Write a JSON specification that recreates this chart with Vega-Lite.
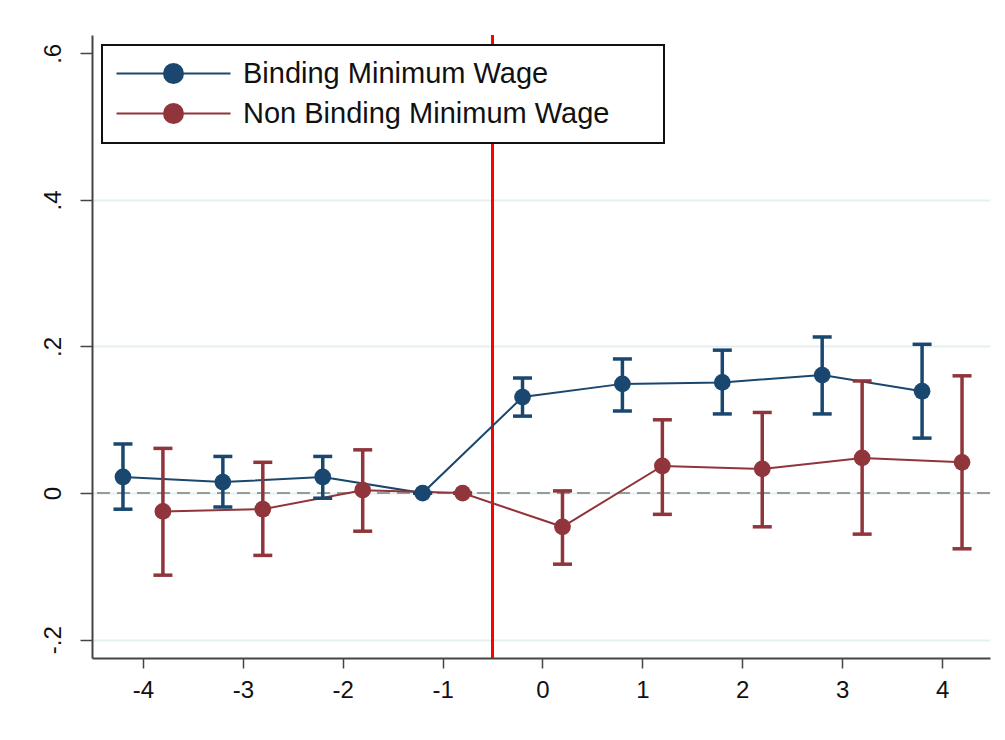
{
  "$schema": "https://vega.github.io/schema/vega-lite/v6.json",
  "width": 898,
  "height": 623,
  "autosize": "none",
  "padding": {"left": 92, "top": 35, "right": 15, "bottom": 82},
  "background": "white",
  "config": {"view": {"stroke": null}, "font": "Liberation Sans"},
  "datasets": {
    "est": [
      {"series": "Binding Minimum Wage", "t": -4.2, "b": 0.022, "lo": -0.022, "hi": 0.067},
      {"series": "Binding Minimum Wage", "t": -3.2, "b": 0.015, "lo": -0.019, "hi": 0.05},
      {"series": "Binding Minimum Wage", "t": -2.2, "b": 0.022, "lo": -0.007, "hi": 0.05},
      {"series": "Binding Minimum Wage", "t": -1.2, "b": 0.0, "lo": 0.0, "hi": 0.0},
      {"series": "Binding Minimum Wage", "t": -0.2, "b": 0.131, "lo": 0.105, "hi": 0.157},
      {"series": "Binding Minimum Wage", "t": 0.8, "b": 0.149, "lo": 0.112, "hi": 0.183},
      {"series": "Binding Minimum Wage", "t": 1.8, "b": 0.151, "lo": 0.108, "hi": 0.195},
      {"series": "Binding Minimum Wage", "t": 2.8, "b": 0.161, "lo": 0.108, "hi": 0.213},
      {"series": "Binding Minimum Wage", "t": 3.8, "b": 0.139, "lo": 0.075, "hi": 0.203},
      {"series": "Non Binding Minimum Wage", "t": -3.8, "b": -0.025, "lo": -0.112, "hi": 0.061},
      {"series": "Non Binding Minimum Wage", "t": -2.8, "b": -0.022, "lo": -0.085, "hi": 0.042},
      {"series": "Non Binding Minimum Wage", "t": -1.8, "b": 0.004, "lo": -0.052, "hi": 0.059},
      {"series": "Non Binding Minimum Wage", "t": -0.8, "b": 0.0, "lo": 0.0, "hi": 0.0},
      {"series": "Non Binding Minimum Wage", "t": 0.2, "b": -0.046, "lo": -0.097, "hi": 0.003},
      {"series": "Non Binding Minimum Wage", "t": 1.2, "b": 0.037, "lo": -0.029, "hi": 0.1},
      {"series": "Non Binding Minimum Wage", "t": 2.2, "b": 0.033, "lo": -0.046, "hi": 0.11},
      {"series": "Non Binding Minimum Wage", "t": 3.2, "b": 0.048, "lo": -0.056, "hi": 0.153},
      {"series": "Non Binding Minimum Wage", "t": 4.2, "b": 0.042, "lo": -0.076, "hi": 0.16}
    ]
  },
  "data": {"name": "est"},
  "encoding": {
    "x": {
      "field": "t", "type": "quantitative",
      "scale": {"domain": [-4.51, 4.48], "nice": false, "zero": false},
      "axis": {
        "values": [-4, -3, -2, -1, 0, 1, 2, 3, 4],
        "labelExpr": "(datum.value < 0 ? '-' : '') + abs(datum.value)",
        "title": null, "grid": false,
        "domainColor": "#444", "domainWidth": 2,
        "tickColor": "#444", "tickWidth": 1.5, "tickSize": 10,
        "labelFontSize": 24, "labelColor": "#111", "labelPadding": 10,
        "labelFont": "Liberation Sans"
      }
    },
    "y": {
      "field": "b", "type": "quantitative",
      "scale": {"domain": [-0.225, 0.625], "nice": false, "zero": false},
      "axis": {
        "values": [-0.2, 0, 0.2, 0.4, 0.6],
        "labelExpr": "datum.value == 0 ? '0' : (datum.value < 0 ? '-' : '') + replace(format(abs(datum.value), '.1f'), '0.', '.')",
        "title": null,
        "grid": true, "gridColor": "#e6eff0", "gridWidth": 2,
        "gridOpacity": {"condition": {"test": "datum.value > 0.5", "value": 0}, "value": 1},
        "domainColor": "#444", "domainWidth": 2,
        "tickColor": "#444", "tickWidth": 1.5, "tickSize": 12,
        "labelAngle": -90, "labelAlign": "center", "labelBaseline": "bottom",
        "labelFontSize": 24, "labelColor": "#111", "labelPadding": 15,
        "labelFont": "Liberation Sans"
      }
    },
    "color": {
      "field": "series", "type": "nominal",
      "scale": {"domain": ["Binding Minimum Wage", "Non Binding Minimum Wage"], "range": ["#1a476f", "#90353b"]},
      "legend": {
        "title": null,
        "orient": "none", "legendX": 10, "legendY": 10,
        "direction": "vertical",
        "padding": 14,
        "strokeColor": "#111", "fillColor": "white",
        "symbolType": "M-5.7,0L5.7,0M0.95,0A0.95,0.95,0,1,1,-0.95,0A0.95,0.95,0,1,1,0.95,0ZM47.2,0",
        "symbolSize": 400,
        "symbolOffset": 43,
        "labelOffset": 55,
        "labelFontSize": 29,
        "labelFont": "Liberation Sans",
        "labelColor": "#111",
        "labelLimit": 600,
        "rowPadding": 10,
        "encode": {
          "legend": {"update": {"strokeWidth": {"value": 2}}},
          "symbols": {
            "update": {
              "fill": {"scale": "color", "field": "value"},
              "stroke": {"scale": "color", "field": "value"},
              "strokeWidth": {"value": 2},
              "opacity": {"value": 1}
            }
          }
        }
      }
    }
  },
  "layer": [
    {
      "mark": {"type": "rule", "color": "#9a9a9a", "strokeWidth": 2, "strokeDash": [13, 7]},
      "encoding": {"y": {"datum": 0}, "x": null, "color": null}
    },
    {
      "mark": {"type": "rule", "color": "#ff0000", "strokeWidth": 2},
      "encoding": {"x": {"datum": -0.5}, "y": null, "color": null}
    },
    {
      "mark": {"type": "line", "strokeWidth": 2},
      "encoding": {"order": {"field": "t", "type": "quantitative"}}
    },
    {
      "mark": {"type": "rule", "strokeWidth": 3.5},
      "encoding": {"y": {"field": "lo", "type": "quantitative"}, "y2": {"field": "hi"}}
    },
    {
      "mark": {"type": "tick", "orient": "horizontal", "size": 19, "thickness": 3.5, "opacity": 1},
      "encoding": {"y": {"field": "lo", "type": "quantitative"}}
    },
    {
      "mark": {"type": "tick", "orient": "horizontal", "size": 19, "thickness": 3.5, "opacity": 1},
      "encoding": {"y": {"field": "hi", "type": "quantitative"}}
    },
    {
      "mark": {"type": "point", "filled": true, "shape": "circle", "size": 280, "opacity": 1}
    }
  ]
}
